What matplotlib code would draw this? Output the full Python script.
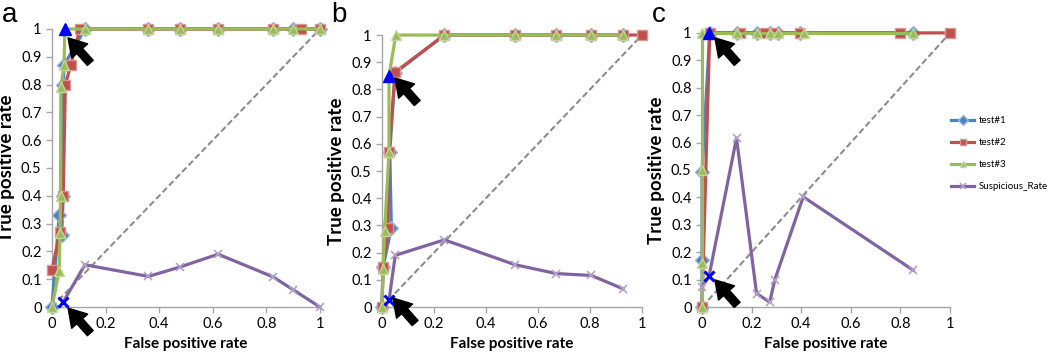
import matplotlib.pyplot as plt
from matplotlib.lines import Line2D

plt.rcParams['font.family'] = ['Lato', 'DejaVu Sans']

# === Data ===
# panel a
a_t1_x = [0, 0.027, 0.036, 0.042, 0.042, 0.045, 0.123, 0.36, 0.478, 0.62, 0.826, 0.9, 1.0]
a_t1_y = [0, 0.33, 0.26, 0.40, 0.80, 0.87, 1, 1, 1, 1, 1, 1, 1]
a_t2_x = [0, 0.03, 0.042, 0.05, 0.07, 0.104, 0.36, 0.478, 0.62, 0.826, 0.93, 1.0]
a_t2_y = [0.134, 0.27, 0.40, 0.80, 0.87, 1, 1, 1, 1, 1, 1, 1]
a_t3_x = [0, 0.027, 0.03, 0.032, 0.033, 0.045, 0.048, 0.123, 0.36, 0.478, 0.62, 0.826, 0.9, 1.0]
a_t3_y = [0, 0.13, 0.265, 0.40, 0.79, 0.87, 1, 1, 1, 1, 1, 1, 1, 1]
a_sr_x = [0.042, 0.123, 0.36, 0.478, 0.62, 0.826, 0.9, 1.0]
a_sr_y = [0.018, 0.152, 0.11, 0.144, 0.19, 0.108, 0.062, 0]
a_hi_tri = (0.048, 1.0)
a_hi_x = (0.042, 0.018)

# panel b
b_t1_x = [0, 0.004, 0.036, 0.03, 0.05, 0.24, 0.51, 0.67, 0.805, 0.927]
b_t1_y = [0, 0.147, 0.29, 0.57, 0.86, 1, 1, 1, 1, 1]
b_t2_x = [0, 0.004, 0.023, 0.027, 0.051, 0.24, 0.51, 0.67, 0.805, 0.927, 1.0]
b_t2_y = [0, 0.147, 0.29, 0.57, 0.864, 1, 1, 1, 1, 1, 1]
b_t3_x = [0, 0.004, 0.01, 0.027, 0.027, 0.053, 0.24, 0.51, 0.67, 0.805, 0.927]
b_t3_y = [0, 0.14, 0.28, 0.57, 0.85, 1, 1, 1, 1, 1, 1]
b_sr_x = [0.027, 0.051, 0.24, 0.51, 0.67, 0.805, 0.927]
b_sr_y = [0.025, 0.19, 0.247, 0.156, 0.123, 0.116, 0.067]
b_hi_tri = (0.027, 0.85)
b_hi_x = (0.027, 0.025)

# panel c
c_t1_x = [0, 0, 0, 0.031, 0.139, 0.22, 0.273, 0.307, 0.394, 0.852]
c_t1_y = [0, 0.17, 0.494, 1, 1, 1, 1, 1, 1, 1]
c_t2_x = [0, 0.031, 0.152, 0.253, 0.293, 0.394, 0.80, 1.0]
c_t2_y = [0, 1, 1, 1, 1, 1, 1, 1]
c_t3_x = [0, 0, 0, 0, 0.028, 0.139, 0.22, 0.273, 0.307, 0.41, 0.852]
c_t3_y = [0, 0.16, 0.50, 1, 1, 1, 1, 1, 1, 1, 1]
c_sr_x = [0, 0.028, 0.139, 0.22, 0.273, 0.293, 0.408, 0.852]
c_sr_y = [0.073, 0.112, 0.616, 0.049, 0.018, 0.098, 0.402, 0.134]
c_hi_tri = (0.028, 1.0)
c_hi_x = (0.028, 0.112)

labels = ['test#1', 'test#2', 'test#3', 'Suspicious_Rate']

# === Styles (Excel 2007 defaults) ===
styles = [
    dict(color='#4F81BD', marker='D', ms=7, mec='#9BB7DC', mew=1),
    dict(color='#C0504D', marker='s', ms=6.5, mec='#D99694', mew=1),
    dict(color='#9BBB59', marker='^', ms=7, mec='#C3D69B', mew=1),
    dict(color='#8064A2', marker='x', ms=6, mec='#B3A2C7', mew=1.2),
]

fig = plt.figure(figsize=(10.5, 3.56), dpi=100)

axes_pos = [
    [0.0495, 0.1376, 0.2552, 0.781],
    [0.3638, 0.1376, 0.2476, 0.764],
    [0.6686, 0.1376, 0.2362, 0.770],
]

panels = [
    ('a', [(a_t1_x, a_t1_y), (a_t2_x, a_t2_y), (a_t3_x, a_t3_y), (a_sr_x, a_sr_y)], a_hi_tri, a_hi_x,
     [(0.06, 0.968), (0.06, -0.004)]),
    ('b', [(b_t1_x, b_t1_y), (b_t2_x, b_t2_y), (b_t3_x, b_t3_y), (b_sr_x, b_sr_y)], b_hi_tri, b_hi_x,
     [(0.05, 0.842), (0.042, 0.033)]),
    ('c', [(c_t1_x, c_t1_y), (c_t2_x, c_t2_y), (c_t3_x, c_t3_y), (c_sr_x, c_sr_y)], c_hi_tri, c_hi_x,
     [(0.052, 0.982), (0.052, 0.099)]),
]

for pos, (letter, series, hi_tri, hi_x, arrows) in zip(axes_pos, panels):
    ax = fig.add_axes(pos)
    ax.plot([0, 1], [0, 1], ls='--', color='#8C8C8C', lw=1.5, dashes=(3, 1.5), zorder=1)
    for (xs, ys), st, lab in zip(series, styles, labels):
        ax.plot(xs, ys, lw=2.3, clip_on=False, zorder=3, label=lab, **st)
    ax.plot(*hi_tri, marker='^', color='#0000FF', ms=8, clip_on=False, zorder=5)
    ax.plot(*hi_x, marker='x', color='#0000FF', ms=7, mew=2.2, clip_on=False, zorder=5)
    for hx, hy in arrows:
        ax.annotate('', xy=(hx, hy), xytext=(16, -18), textcoords='offset points',
                    arrowprops=dict(arrowstyle='simple,head_width=1.1,head_length=0.9,tail_width=0.4',
                                    color='black', mutation_scale=14, shrinkA=0, shrinkB=0),
                    annotation_clip=False, zorder=6)

    ax.set_xlim(0, 1)
    ax.set_ylim(0, 1)
    ax.set_xticks([0, 0.2, 0.4, 0.6, 0.8, 1])
    ax.set_xticklabels(['0', '0.2', '0.4', '0.6', '0.8', '1'])
    ax.set_yticks([i / 10 for i in range(11)])
    ax.set_yticklabels(['0'] + ['%.1f' % (i / 10) for i in range(1, 10)] + ['1'])
    for s in ['top', 'right']:
        ax.spines[s].set_visible(False)
    for s in ['left', 'bottom']:
        ax.spines[s].set_color('#A6A6A6')
        ax.spines[s].set_linewidth(1)
    ax.tick_params(colors='#A6A6A6', labelcolor='black', labelsize=10.5, length=4, width=1)
    ax.set_xlabel('False positive rate', fontsize=11, fontweight='bold', labelpad=4)
    ax.set_ylabel('True positive rate', fontsize=13.5, fontweight='bold', labelpad=4)
    fig.text(pos[0] - 0.048, 0.995, letter, fontsize=20, va='top', ha='left',
             family='Liberation Sans')

# === Legend ===
handles = [Line2D([], [], lw=2.3, **st) for st in styles]
fig.legend(handles, labels, loc='upper left', bbox_to_anchor=(0.903, 0.682), frameon=False,
           fontsize=7, handlelength=2.4, labelspacing=1.35, handletextpad=0.4, markerscale=0.7,
           borderaxespad=0, borderpad=0.3)

plt.savefig('out.png', dpi=100)
